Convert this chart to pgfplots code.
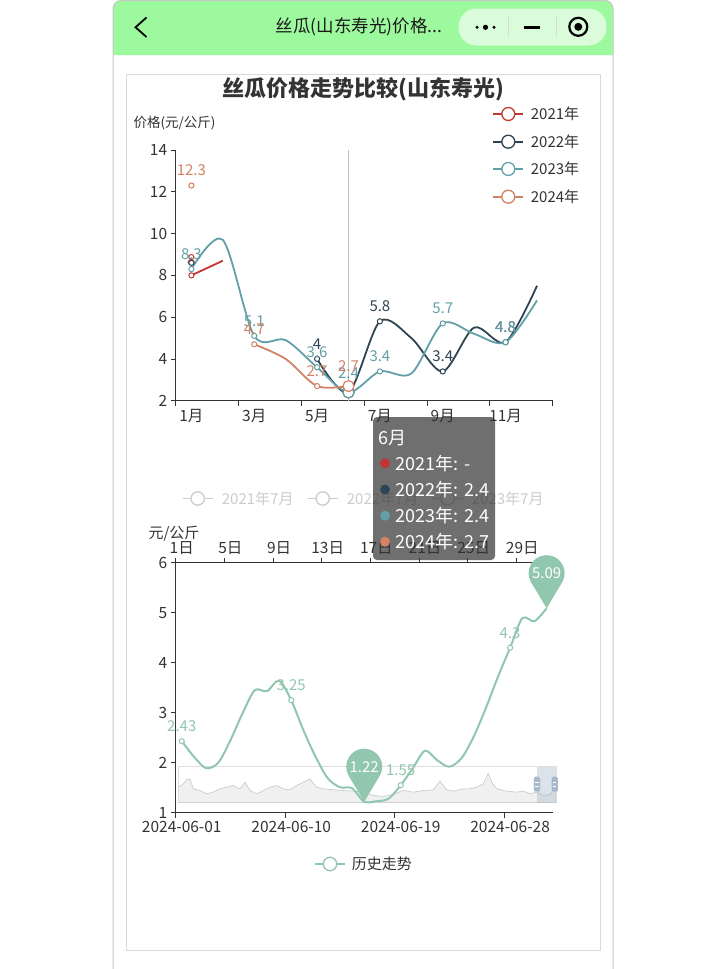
\documentclass[border=0pt]{standalone}
\usepackage{pgfplots}
\pgfplotsset{compat=1.18}
\usepackage{fontspec}
\setmainfont{Noto Sans CJK SC}
\definecolor{cA}{HTML}{C23531}
\definecolor{cB}{HTML}{2F4554}
\definecolor{cC}{HTML}{61A0A8}
\definecolor{cD}{HTML}{D48265}
\definecolor{cH}{HTML}{91C7AE}
\definecolor{tx}{HTML}{333333}
\definecolor{hdrcol}{HTML}{9DF99D}
\definecolor{capcol}{HTML}{DAFCDA}
\definecolor{frmcol}{HTML}{C8C8C8}
\definecolor{cardcol}{HTML}{DADADA}
\definecolor{faintcol}{HTML}{CCCCCC}
\definecolor{dzcol}{HTML}{A7B7CC}
\definecolor{ttcol}{HTML}{323232}
\newcommand{\fs}[1]{\fontsize{#1bp}{#1bp}\selectfont}

\pgfdeclareplotmark{pin}{%
  \pgfpathmoveto{\pgfpoint{0bp}{0bp}}%
  \pgfpathlineto{\pgfpoint{15.43bp}{25.73bp}}%
  \pgfpatharc{-31}{211}{18bp}%
  \pgfpathclose
  \pgfusepathqfill
}

\pgfplotsset{
  lblx/.style 2 args={nodes near coords, every node near coord/.append style={font=\fs{15}, text=#1, anchor=south, inner sep=1bp, yshift=#2}},
  lbl/.style={lblx={#1}{8bp}},
  mk/.style={only marks, mark=*, mark size=2.6bp, mark options={draw=#1, fill=white, line width=1bp, solid}},
  mkE/.style={only marks, mark=*, mark size=5.5bp, mark options={draw=#1, fill=white, line width=1.2bp, solid}},
  ln/.style={color=#1, line width=1.8bp, smooth, no marks},
  base/.style={scale only axis, axis lines*=left, axis line style={-, tx, line width=0.8bp},
    tick style={tx, line width=0.8bp}, tick align=outside, major tick length=5bp, minor tick length=5bp,
    major x tick style={draw=none},
    tick label style={font=\fs{15.5}, text=tx}, /pgf/number format/assume math mode=true, clip=false},
}

\begin{document}
\begin{tikzpicture}
\fill[white] (0,0) rectangle (726bp,-969bp);
\begin{scope}[x=1bp,y=-1bp]
  % window
  \fill[hdrcol] (113,55) [rounded corners=8bp] -- (113,0.5) -- (613,0.5) [sharp corners] -- (613,55) -- cycle;
  \draw[frmcol, line width=1bp, rounded corners=8bp] (113,969) -- (113,0.5) -- (613,0.5) -- (613,969);
  \draw[line width=1.8bp, line join=miter] (146.5,17.5) -- (135.5,27.3) -- (146.5,37);
  \node[font=\fs{17.5}, text=black!90] at (359,27.3) {丝瓜(山东寿光)价格...};
  \fill[capcol, rounded corners=18bp] (458.5,8.5) rectangle (606.5,45.5);
  \draw[black!15, line width=0.8bp] (508,17) -- (508,37) (556.7,17) -- (556.7,37);
  \fill (477,27.3) circle (1.7bp) (485.5,27.3) circle (2.6bp) (494,27.3) circle (1.7bp);
  \draw[line width=3bp] (523.5,27.5) -- (540,27.5);
  \draw[line width=2.2bp] (578.3,26.8) circle (9bp);
  \fill (578.3,26.8) circle (4bp);
  % card
  \draw[cardcol, line width=1bp] (126.7,74) rectangle (600,950);
  \node[font=\bfseries\fs{22}, text=tx] at (363.3,89) {丝瓜价格走势比较(山东寿光)};
  \node[font=\fs{13.5}, text=tx] at (174.5,123) {价格(元/公斤)};
  % top legend
  \foreach \c/\t/\yy in {cA/2021年/114, cB/2022年/141.7, cC/2023年/169, cD/2024年/196.7}{
    \draw[\c, line width=1.8bp] (493.3,\yy) -- (523.3,\yy);
    \filldraw[draw=\c, fill=white, line width=1.3bp] (508.3,\yy) circle (6.5bp);
    \node[font=\fs{15}, text=tx, anchor=west, inner sep=0pt] at (530.7,\yy) {\t};
  }
  % faded legend
  \foreach \xx/\t in {197.7/2021年7月, 322.7/2022年7月, 447.7/2023年7月}{
    \draw[faintcol, line width=1.6bp] (\xx-15,498.5) -- (\xx+15,498.5);
    \filldraw[draw=faintcol, fill=white, line width=1.3bp] (\xx,498.5) circle (6.7bp);
    \node[font=\fs{15}, text=faintcol, anchor=west, inner sep=0pt] at (\xx+24,498.5) {\t};
  }
  \node[font=\fs{15}, text=tx] at (174,534) {元/公斤};
  % bottom legend
  \draw[cH, line width=1.6bp] (315,864) -- (345,864);
  \filldraw[draw=cH, fill=white, line width=1.3bp] (330,864) circle (6.7bp);
  \node[font=\fs{15}, text=tx, anchor=west, inner sep=0pt] at (351.7,864) {历史走势};
  % slider frame
  \draw[black!13, line width=0.8bp] (178.3,766.7) rectangle (556,802.7);
\end{scope}

% slider shadow
\begin{axis}[at={(178.3bp,-802.7bp)}, anchor=south west, scale only axis, width=377.7bp, height=36bp,
  xmin=175, xmax=1308, ymin=0, ymax=109, hide axis]
\addplot[draw=black!22, line width=0.6bp, fill=black!6] coordinates {
(175,47)(190,57)(200,69)(210,72)(220,42)(240,37)(260,27)(280,32)(300,42)(320,47)(340,52)(360,42)
(375,62)(390,37)(410,27)(430,37)(450,47)(470,52)(490,42)(510,39)(530,52)(550,62)(570,72)(590,47)
(610,42)(640,39)(670,37)(700,35)(730,32)(760,22)(790,19)(820,25)(850,37)(880,32)(910,37)(940,39)
(960,65)(980,39)(1000,35)(1030,42)(1050,42)(1070,47)(1090,57)(1105,89)(1115,62)(1130,42)(1160,35)
(1190,32)(1210,35)(1230,27)(1250,32)(1270,22)(1290,25)(1308,47)} \closedcycle;
\end{axis}
\begin{scope}[x=1bp,y=-1bp]
  \fill[dzcol, opacity=0.4] (536.7,766.7) rectangle (556,802.7);
  \foreach \xx in {537,554.7}{
    \fill[dzcol, rounded corners=1.5bp] (\xx-3.2,776.7) rectangle (\xx+3.2,791.7);
    \draw[white, line width=0.8bp] (\xx-1.6,782) -- (\xx+1.6,782) (\xx-1.6,786.5) -- (\xx+1.6,786.5);
  }
\end{scope}

% chart 1
\begin{axis}[base, at={(175.7bp,-400.7bp)}, anchor=south west, width=377bp, height=250.7bp,
  xmin=0.5, xmax=12.5, ymin=2, ymax=14,
  minor xtick={0.5,2.5,...,12.5},
  xtick={1,3,5,7,9,11}, xticklabels={1月,3月,5月,7月,9月,11月},
  ytick={2,4,...,14},
  /pgf/number format/fixed, /pgf/number format/precision=1]
\draw[black!25, line width=1bp] (axis cs:6,2) -- (axis cs:6,14);
\addplot[ln=cA] coordinates {(1,8.0)(2,8.7)};
\addplot[ln=cB] coordinates {(5,4.0)(6,2.4)(7,5.8)(8,5.0)(9,3.4)(10,5.5)(11,4.8)(12,7.5)};
\addplot[ln=cC] coordinates {(1,8.3)(2,9.7)(3,5.1)(4,4.9)(5,3.6)(6,2.4)(7,3.4)(8,3.3)(9,5.7)(10,5.2)(11,4.8)(12,6.8)};
\addplot[ln=cD] coordinates {(3,4.7)(4,4.0)(5,2.7)(6,2.7)};
\addplot[mk=cA, lbl=cA] coordinates {(1,8.0)};
\addplot[mk=cB] coordinates {(1,8.6)};
\addplot[mk=cB, lbl=cB] coordinates {(5,4.0)(7,5.8)(9,3.4)(11,4.8)};
\addplot[mk=cC, lbl=cC] coordinates {(1,8.3)(3,5.1)(5,3.6)(7,3.4)(9,5.7)(11,4.8)};
\addplot[mk=cD, lbl=cD] coordinates {(1,12.3)(3,4.7)(5,2.7)};
\addplot[mkE=cB] coordinates {(6,2.4)};
\addplot[mkE=cC, lblx={cC}{12bp}] coordinates {(6,2.4)};
\addplot[mkE=cD, lblx={cD}{13bp}] coordinates {(6,2.7)};
\end{axis}

% chart 2 (top axis)
\begin{axis}[base, at={(175.7bp,-812.7bp)}, anchor=south west, width=377bp, height=250bp,
  xmin=0, xmax=31, ymin=1, ymax=6, axis x line*=top, axis y line=none,
  minor xtick={0,4,...,28}, xticklabel pos=upper,
  xtick={0.5,4.5,...,28.5}, xticklabels={1日,5日,9日,13日,17日,21日,25日,29日}]
\addplot[draw=none] coordinates {(0,1)};
\end{axis}

% chart 2 (main)
\begin{axis}[base, at={(175.7bp,-812.7bp)}, anchor=south west, width=377bp, height=250bp,
  xmin=0, xmax=31, ymin=1, ymax=6,
  minor xtick={0,9,18,27},
  xtick={0.5,9.5,18.5,27.5}, xticklabels={2024-06-01,2024-06-10,2024-06-19,2024-06-28},
  ytick={1,...,6},
  /pgf/number format/fixed, /pgf/number format/precision=2]
\addplot[ln=cH, line width=2bp] coordinates {
(0.5,2.43)(1.5,2.12)(2.5,1.89)(3.5,2.00)(4.5,2.45)(5.5,2.99)(6.5,3.45)(7.5,3.43)(8.5,3.64)(9.5,3.25)
(10.5,2.65)(11.5,2.12)(12.5,1.69)(13.5,1.51)(14.5,1.49)(15.5,1.22)(16.5,1.23)(17.5,1.28)(18.5,1.55)
(19.5,1.89)(20.5,2.24)(21.5,2.05)(22.5,1.92)(23.5,2.09)(24.5,2.52)(25.5,3.09)(26.5,3.72)(27.5,4.30)
(28.5,4.89)(29.5,4.83)(30.5,5.09)};
\addplot[mk=cH, lbl=cH] coordinates {(0.5,2.43)(9.5,3.25)(18.5,1.55)(27.5,4.30)};
\addplot[only marks, mark=pin, mark options={draw=none, fill=cH}, nodes near coords,
  every node near coord/.append style={font=\fs{15}, text=white, anchor=center, yshift=35bp}]
  coordinates {(15.5,1.22)(30.5,5.09)};
\end{axis}

% tooltip
\begin{scope}[x=1bp,y=-1bp]
  \fill[ttcol, fill opacity=0.7, rounded corners=4bp] (373,417) rectangle (495,560);
  \node[font=\fs{18}, text=white, anchor=west, inner sep=0pt] at (378,438) {6月};
  \foreach \c/\t/\yy in {cA/{2021年: -}/463.3, cB/{2022年: 2.4}/489.5, cC/{2023年: 2.4}/515.7, cD/{2024年: 2.7}/541.7}{
    \fill[\c] (385,\yy) circle (5bp);
    \node[font=\fs{18}, text=white, anchor=west, inner sep=0pt] at (395.5,\yy) {\t};
  }
\end{scope}
\pgfresetboundingbox
\path[use as bounding box] (0,0) rectangle (726bp,-969bp);
\end{tikzpicture}
\end{document}
